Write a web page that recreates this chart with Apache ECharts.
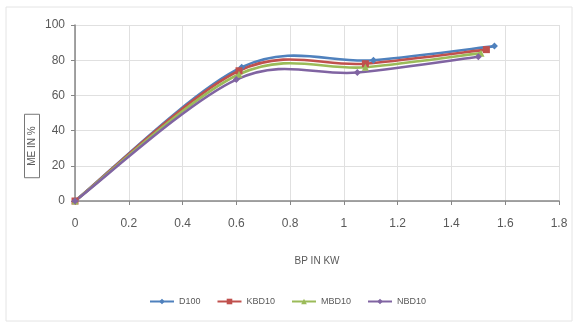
<!DOCTYPE html>
<html><head><meta charset="utf-8">
<script src="https://cdn.jsdelivr.net/npm/echarts@6/dist/echarts.min.js"></script>
<style>html,body{margin:0;padding:0;background:#fff}#c{width:575px;height:324px}</style>
</head><body><div id="c"></div>
<script>
const seriesNames = ['D100', 'KBD10', 'MBD10', 'NBD10'];
const d100  = [[0, 0], [0.62, 76], [1.11, 80], [1.56, 88]];
const kbd10 = [[0, 0], [0.61, 74], [1.08, 78], [1.53, 86]];
const mbd10 = [[0, 0], [0.61, 72], [1.08, 76], [1.51, 84]];
const nbd10 = [[0, 0], [0.60, 69], [1.05, 73], [1.50, 82]];
const colors = ['#4F81BD', '#C0504D', '#9BBB59', '#8064A2'];
const symbols = ['diamond', 'rect', 'triangle', 'diamond'];
const allData = [d100, kbd10, mbd10, nbd10];

const chart = echarts.init(document.getElementById('c'));
const font = 'Liberation Sans Narrow, Liberation Sans';

// Excel-like smoothed segment (Catmull-Rom style bezier) drawn through the axis scales
function makeRender(data, color) {
  return function (params, api) {
    const i = params.dataIndex;
    if (i >= data.length - 1) return null;
    const p = k => api.coord(data[Math.max(0, Math.min(data.length - 1, k))]);
    const p0 = p(i - 1), p1 = p(i), p2 = p(i + 1), p3 = p(i + 2);
    const t = 1 / 6;
    const c1 = [p1[0] + (p2[0] - p0[0]) * t, p1[1] + (p2[1] - p0[1]) * t];
    const c2 = [p2[0] - (p3[0] - p1[0]) * t, p2[1] - (p3[1] - p1[1]) * t];
    return {
      type: 'bezierCurve',
      shape: {x1: p1[0], y1: p1[1], cpx1: c1[0], cpy1: c1[1], cpx2: c2[0], cpy2: c2[1], x2: p2[0], y2: p2[1]},
      style: {stroke: color, lineWidth: 2.6, fill: null},
      silent: true
    };
  };
}

const series = [];
seriesNames.forEach((n, i) => {
  series.push({
    name: n, type: 'line', data: allData[i], smooth: false,
    symbol: symbols[i], symbolSize: 7, z: 3,
    lineStyle: {color: colors[i], width: 2, opacity: 0},
    itemStyle: {color: colors[i]}
  });
});
seriesNames.forEach((n, i) => {
  series.push({
    name: n, type: 'custom', data: allData[i], z: 2,
    renderItem: makeRender(allData[i], colors[i]),
    itemStyle: {color: colors[i]}
  });
});

chart.setOption({
  animation: false,
  graphic: [
    {type: 'rect', shape: {x: 6, y: 7, width: 566, height: 314}, style: {fill: 'none', stroke: '#e4e4e4', lineWidth: 1}, silent: true},
    {type: 'text', x: 32, y: 146, rotation: Math.PI / 2, silent: true,
      style: {text: 'ME IN %', fontFamily: font, fontSize: 10, fill: '#595959',
        align: 'center', verticalAlign: 'middle',
        borderColor: '#777', borderWidth: 1, padding: [3, 12, 2, 12]}}
  ],
  grid: {left: 75, right: 16, top: 25, bottom: 123, containLabel: false},
  legend: {
    bottom: 13, left: 'center', itemWidth: 24, itemHeight: 7, itemGap: 16,
    textStyle: {fontFamily: font, fontSize: 9, color: '#595959'},
    data: seriesNames.map((n, i) => ({name: n, lineStyle: {opacity: 1, color: colors[i], width: 2}}))
  },
  xAxis: {
    type: 'value', min: 0, max: 1.8, interval: 0.2,
    name: 'BP IN KW', nameLocation: 'middle', nameGap: 55,
    nameTextStyle: {fontFamily: font, fontSize: 10, color: '#595959'},
    axisLine: {show: true, lineStyle: {color: '#868686', width: 1.5}},
    axisTick: {show: true, length: 4, lineStyle: {color: '#868686'}},
    axisLabel: {fontFamily: font, fontSize: 12, color: '#595959', margin: 17,
      formatter: v => (Math.round(v * 10) / 10).toString()},
    splitLine: {show: true, lineStyle: {color: '#e0e0e0'}}
  },
  yAxis: {
    type: 'value', min: 0, max: 100, interval: 20,
    axisLine: {show: true, lineStyle: {color: '#868686', width: 1.5}},
    axisTick: {show: true, length: 4, lineStyle: {color: '#868686'}},
    axisLabel: {fontFamily: font, fontSize: 12, color: '#595959', margin: 10},
    splitLine: {show: true, lineStyle: {color: '#e0e0e0'}}
  },
  series: series
});
</script></body></html>
